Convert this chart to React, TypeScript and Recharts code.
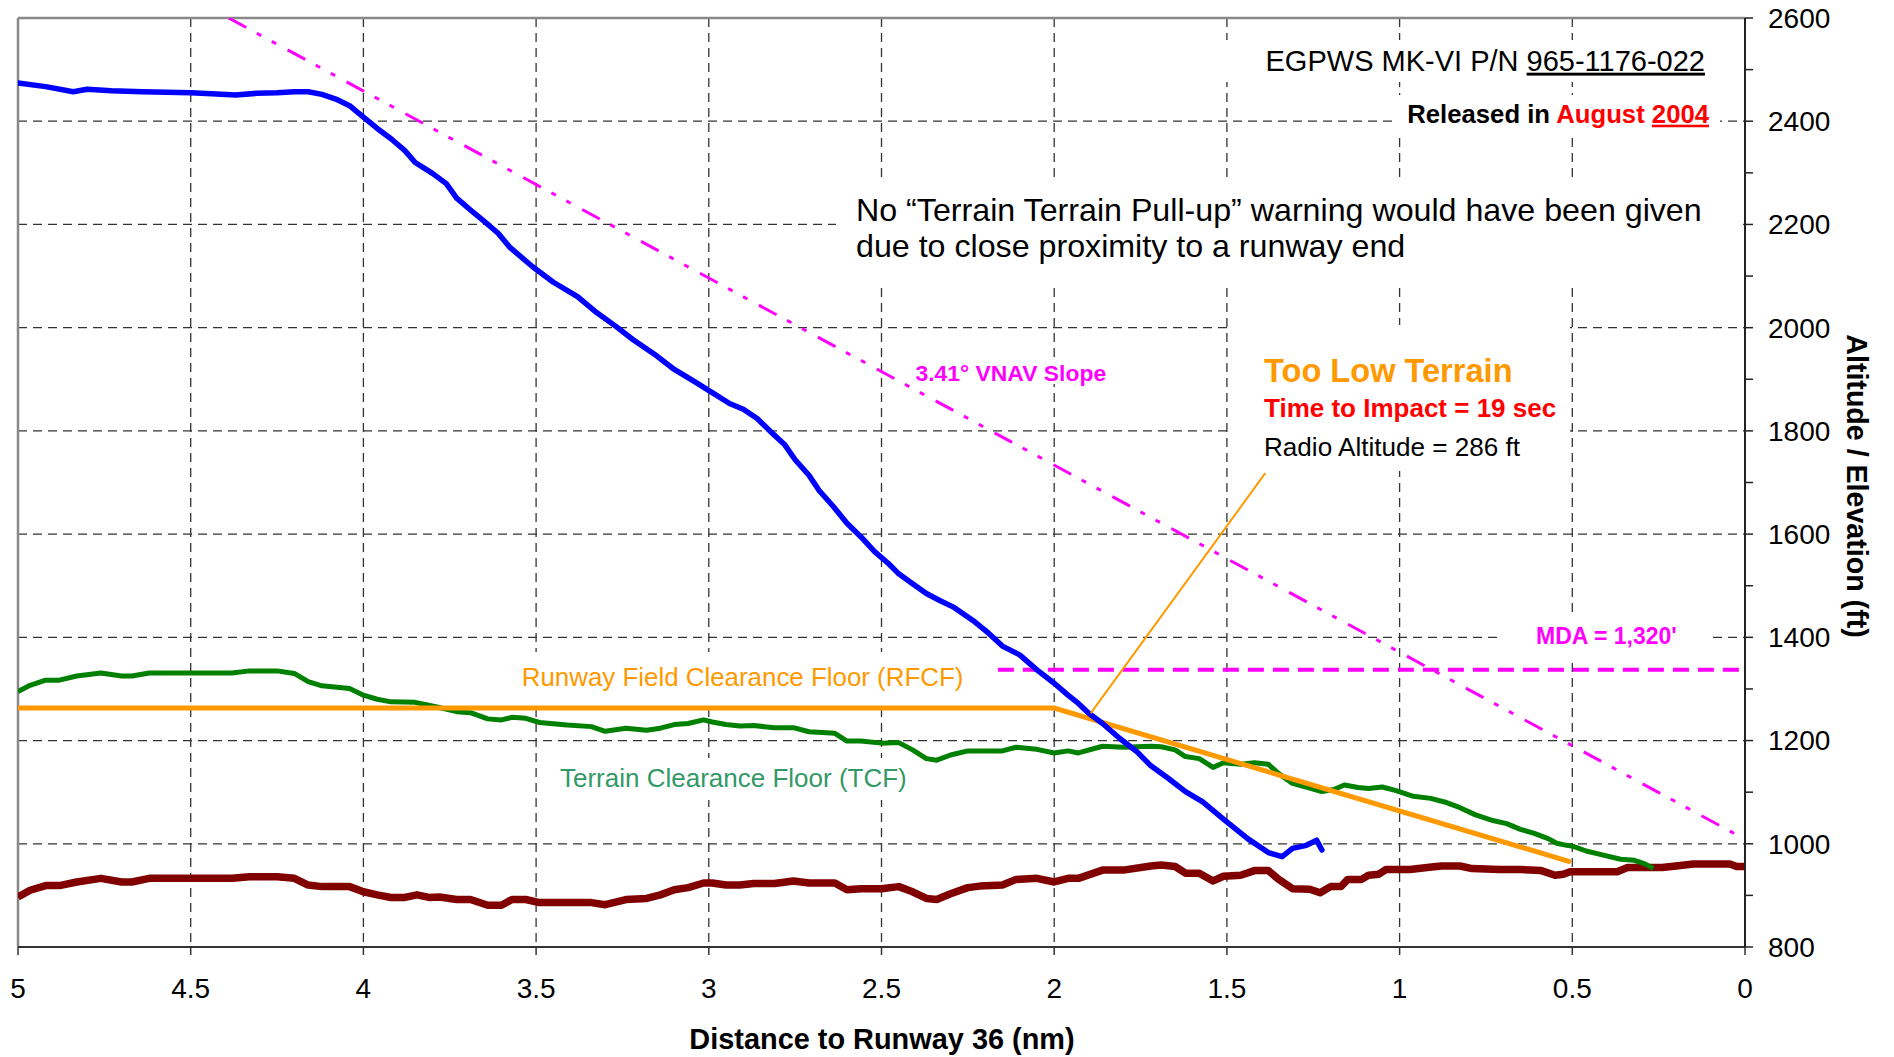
import { LineChart, Line, XAxis, YAxis, CartesianGrid, ReferenceLine } from 'recharts';

// [distance to runway (nm), altitude / elevation (ft)]
const aircraftAltitude: [number, number][] = [
    [5.0, 2474], [4.92, 2467], [4.84, 2457], [4.8, 2462], [4.73, 2459], [4.64, 2457], [4.5, 2455],
    [4.44, 2453], [4.37, 2451], [4.31, 2454], [4.25, 2455], [4.2, 2457], [4.16, 2457], [4.12, 2452],
    [4.08, 2443], [4.04, 2430], [4.0, 2408], [3.96, 2386], [3.92, 2366], [3.88, 2343], [3.85, 2320],
    [3.8, 2299], [3.76, 2279], [3.73, 2251], [3.69, 2228], [3.65, 2206], [3.61, 2183], [3.575, 2155],
    [3.51, 2118], [3.45, 2088], [3.38, 2060], [3.33, 2032], [3.27, 2003], [3.22, 1977], [3.15, 1945],
    [3.1, 1919], [3.04, 1895], [2.99, 1874], [2.94, 1853], [2.9, 1842], [2.86, 1824], [2.82, 1798],
    [2.78, 1773], [2.75, 1744], [2.71, 1714], [2.68, 1684], [2.64, 1654], [2.6, 1621], [2.56, 1595],
    [2.52, 1566], [2.48, 1543], [2.45, 1523], [2.41, 1504], [2.37, 1485], [2.33, 1471], [2.29, 1458],
    [2.23, 1430], [2.19, 1408], [2.15, 1383], [2.1, 1366], [2.05, 1337], [2.0, 1311], [1.96, 1288],
    [1.93, 1272], [1.9, 1253], [1.86, 1233], [1.81, 1204], [1.76, 1178], [1.72, 1151], [1.67, 1127],
    [1.62, 1101], [1.57, 1081], [1.51, 1048], [1.44, 1010], [1.38, 983], [1.34, 975], [1.31, 991],
    [1.27, 997], [1.24, 1007], [1.225, 988],
];

const terrainClearanceFloor: [number, number][] = [
    [5.0, 1295], [4.965, 1307], [4.92, 1317], [4.88, 1317], [4.83, 1325], [4.76, 1331], [4.7, 1325],
    [4.67, 1325], [4.62, 1331], [4.5, 1331], [4.38, 1331], [4.33, 1335], [4.25, 1335], [4.2, 1330],
    [4.16, 1314], [4.12, 1306], [4.04, 1301], [4.0, 1288], [3.96, 1280], [3.92, 1275], [3.85, 1274],
    [3.78, 1264], [3.73, 1256], [3.69, 1254], [3.64, 1242], [3.6, 1240], [3.57, 1245], [3.53, 1243],
    [3.49, 1235], [3.41, 1230], [3.34, 1227], [3.3, 1218], [3.24, 1224], [3.18, 1220], [3.14, 1224],
    [3.1, 1231], [3.06, 1233], [3.015, 1240], [2.99, 1236], [2.95, 1231], [2.91, 1228], [2.87, 1229],
    [2.81, 1225], [2.755, 1225], [2.71, 1217], [2.635, 1214], [2.6, 1199], [2.56, 1199], [2.5, 1195],
    [2.45, 1196], [2.41, 1182], [2.37, 1165], [2.34, 1162], [2.3, 1172], [2.25, 1180], [2.15, 1180],
    [2.11, 1187], [2.05, 1183], [2.0, 1176], [1.96, 1180], [1.93, 1176], [1.86, 1189], [1.8, 1187],
    [1.72, 1189], [1.69, 1188], [1.65, 1182], [1.62, 1169], [1.58, 1165], [1.54, 1148], [1.51, 1157],
    [1.46, 1154], [1.42, 1157], [1.38, 1154], [1.35, 1136], [1.31, 1117], [1.26, 1108], [1.225, 1101],
    [1.19, 1105], [1.16, 1114], [1.12, 1109], [1.09, 1107], [1.05, 1110], [1.01, 1103], [0.96, 1092],
    [0.91, 1088], [0.87, 1081], [0.825, 1070], [0.78, 1056], [0.73, 1045], [0.69, 1039], [0.65, 1028],
    [0.61, 1020], [0.57, 1010], [0.545, 1001], [0.516, 997], [0.497, 995], [0.46, 986], [0.41, 978],
    [0.36, 970], [0.32, 968], [0.29, 961], [0.265, 952],
];

const terrainElevation: [number, number][] = [
    [5.0, 897], [4.965, 910], [4.92, 919], [4.88, 919], [4.83, 926], [4.76, 933], [4.7, 926],
    [4.67, 926], [4.62, 933], [4.5, 933], [4.38, 933], [4.33, 936], [4.25, 936], [4.2, 933],
    [4.16, 920], [4.12, 917], [4.04, 917], [4.0, 907], [3.96, 901], [3.92, 896], [3.88, 896],
    [3.845, 901], [3.81, 896], [3.78, 897], [3.73, 892], [3.69, 892], [3.64, 881], [3.6, 881],
    [3.57, 892], [3.53, 892], [3.49, 886], [3.34, 886], [3.3, 882], [3.24, 892], [3.18, 894],
    [3.14, 901], [3.1, 911], [3.06, 915], [3.015, 924], [2.99, 924], [2.95, 920], [2.91, 920],
    [2.87, 923], [2.81, 923], [2.755, 928], [2.71, 924], [2.635, 924], [2.6, 911], [2.56, 913],
    [2.5, 913], [2.45, 917], [2.41, 907], [2.37, 894], [2.34, 892], [2.3, 903], [2.25, 915],
    [2.215, 918], [2.15, 920], [2.11, 931], [2.05, 933], [2.0, 926], [1.96, 933], [1.93, 933],
    [1.86, 949], [1.8, 949], [1.72, 957], [1.69, 959], [1.65, 956], [1.62, 943], [1.58, 943],
    [1.54, 928], [1.51, 937], [1.46, 939], [1.42, 948], [1.38, 948], [1.35, 931], [1.31, 913],
    [1.26, 912], [1.23, 905], [1.2, 917], [1.17, 917], [1.15, 931], [1.11, 931], [1.09, 939],
    [1.06, 941], [1.04, 950], [0.97, 950], [0.92, 954], [0.88, 957], [0.825, 957], [0.79, 952],
    [0.71, 950], [0.65, 950], [0.59, 948], [0.55, 939], [0.526, 941], [0.506, 946], [0.42, 946],
    [0.37, 946], [0.34, 954], [0.24, 954], [0.2, 957], [0.15, 961], [0.044, 961], [0.024, 956],
    [0.0, 956],
];

const runwayFieldClearanceFloor: [number, number][] = [[5, 1263], [2, 1263], [0.51, 966]];
const vnavSlope: [number, number][] = [[4.39, 2600], [0.02, 1016]];
const mdaLevel: [number, number][] = [[2.163, 1337], [0, 1337]];
const warningCallout: [number, number][] = [[1.389, 1718], [1.894, 1253]];

const distanceTicks = [0, 0.5, 1, 1.5, 2, 2.5, 3, 3.5, 4, 4.5, 5];
const gridDistances = [0.5, 1, 1.5, 2, 2.5, 3, 3.5, 4, 4.5];
const altitudeTicks = [800, 900, 1000, 1100, 1200, 1300, 1400, 1500, 1600, 1700, 1800, 1900, 2000, 2100, 2200, 2300, 2400, 2500, 2600];
const gridAltitudes = [1000, 1200, 1400, 1600, 1800, 2000, 2200, 2400];

const toPoints = (pairs: [number, number][]) => pairs.map(([x, y]) => ({ x, y }));

const FONT = '"Liberation Sans", Arial, sans-serif';
const W = 1894;
const H = 1057;

export default function App() {
    const tickStyle = { fontSize: 28, fill: '#000', fontFamily: FONT };

    return (
        <div style={{ position: 'absolute', left: 0, top: 0, width: W, height: H, background: '#fff' }}>
            <LineChart width={W} height={H} margin={{ top: 18, right: 0, bottom: 0, left: 18 }}>
                <CartesianGrid
                    stroke="#333"
                    strokeWidth={1.3}
                    strokeDasharray="9 6"
                    horizontalValues={gridAltitudes}
                    verticalValues={gridDistances}
                />
                <XAxis
                    type="number"
                    dataKey="x"
                    domain={[0, 5]}
                    ticks={distanceTicks}
                    reversed
                    allowDataOverflow
                    height={110}
                    tickSize={8}
                    tickMargin={23}
                    tick={tickStyle}
                    tickFormatter={(v: number) => String(v)}
                    axisLine={{ stroke: '#333', strokeWidth: 2 }}
                    tickLine={{ stroke: '#333', strokeWidth: 1.5 }}
                />
                <YAxis
                    type="number"
                    dataKey="y"
                    orientation="right"
                    domain={[800, 2600]}
                    ticks={altitudeTicks}
                    allowDataOverflow
                    width={149}
                    tickSize={8}
                    tickMargin={15}
                    tick={tickStyle}
                    tickFormatter={(v: number) => (v % 200 === 0 ? String(v) : '')}
                    axisLine={{ stroke: '#222', strokeWidth: 2 }}
                    tickLine={{ stroke: '#222', strokeWidth: 1.5 }}
                />
                {/* plot border (left / top) */}
                <ReferenceLine x={5} stroke="#888" strokeWidth={2.5} />
                <ReferenceLine y={2600} stroke="#888" strokeWidth={2.5} />

                <Line data={toPoints(terrainElevation)} dataKey="y" stroke="#800000" strokeWidth={7.5}
                    dot={false} activeDot={false} isAnimationActive={false} strokeLinejoin="round" />
                <Line data={toPoints(terrainClearanceFloor)} dataKey="y" stroke="#008000" strokeWidth={5}
                    dot={false} activeDot={false} isAnimationActive={false} strokeLinejoin="round" />
                <Line data={toPoints(runwayFieldClearanceFloor)} dataKey="y" stroke="#FF9900" strokeWidth={5}
                    dot={false} activeDot={false} isAnimationActive={false} strokeLinecap="round" />
                <Line data={toPoints(vnavSlope)} dataKey="y" stroke="#FF00FF" strokeWidth={3}
                    strokeDasharray="20 12 5 12 5 13" dot={false} activeDot={false} isAnimationActive={false} />
                <Line data={toPoints(mdaLevel)} dataKey="y" stroke="#FF00FF" strokeWidth={4}
                    strokeDasharray="16 9" dot={false} activeDot={false} isAnimationActive={false} />
                <Line data={toPoints(aircraftAltitude)} dataKey="y" stroke="#0000FF" strokeWidth={5.5}
                    dot={false} activeDot={false} isAnimationActive={false} strokeLinejoin="round" strokeLinecap="round" />
                <Line data={toPoints(warningCallout)} dataKey="y" stroke="#FF9900" strokeWidth={2}
                    dot={false} activeDot={false} isAnimationActive={false} />
            </LineChart>

            {/* text boxes */}
            <svg width={W} height={H} style={{ position: 'absolute', left: 0, top: 0, pointerEvents: 'none' }}
                fontFamily={FONT}>
                <g fill="#fff">
                    <rect x={1220} y={40} width={500} height={42} />
                    <rect x={1393} y={95} width={327} height={38} />
                    <rect x={836} y={180} width={904} height={103} />
                    <rect x={912} y={358} width={200} height={26} />
                    <rect x={1232} y={325} width={338} height={146} />
                    <rect x={1500} y={612} width={207} height={48} />
                    <rect x={515} y={652} width={450} height={50} />
                    <rect x={550} y={758} width={362} height={42} />
                </g>
                <text x={1705} y={70.7} fontSize={29} textAnchor="end" fill="#000" style={{ whiteSpace: 'pre' }}>
                    EGPWS MK-VI P/N <tspan style={{ textDecoration: 'underline' }}>965-1176-022</tspan>
                </text>
                <text x={1709} y={122.7} fontSize={25.7} fontWeight="bold" textAnchor="end" style={{ whiteSpace: 'pre' }}>
                    <tspan fill="#000">Released in </tspan>
                    <tspan fill="#FF0000">August </tspan>
                    <tspan fill="#FF0000" style={{ textDecoration: 'underline' }}>2004</tspan>
                </text>
                <text x={856} y={220.7} fontSize={32.2} fill="#000">No “Terrain Terrain Pull-up” warning would have been given</text>
                <text x={856} y={256.7} fontSize={32.2} fill="#000">due to close proximity to a runway end</text>

                <text x={915.5} y={381} fontSize={22.9} fontWeight="bold" fill="#FF00FF">3.41° VNAV Slope</text>

                <text x={1264} y={381.7} fontSize={32.6} fontWeight="bold" fill="#FF9900">Too Low Terrain</text>
                <text x={1264} y={416.7} fontSize={26} fontWeight="bold" fill="#FF0000">Time to Impact = 19 sec</text>
                <text x={1264} y={455.7} fontSize={26.1} fill="#000">Radio Altitude = 286 ft</text>

                <text x={1536} y={644} fontSize={23} fontWeight="bold" fill="#FF00FF">MDA = 1,320'</text>
                <text x={521.7} y={685.7} fontSize={25.9} fill="#FF9900">Runway Field Clearance Floor (RFCF)</text>
                <text x={560} y={787.3} fontSize={26} fill="#339966">Terrain Clearance Floor (TCF)</text>

                <text x={882} y={1049} fontSize={28.9} fontWeight="bold" textAnchor="middle" fill="#000">
                    Distance to Runway 36 (nm)
                </text>
                <text transform="translate(1847, 486) rotate(90)" fontSize={28.6} fontWeight="bold" textAnchor="middle" fill="#000">
                    Altitude / Elevation (ft)
                </text>
            </svg>
        </div>
    );
}
